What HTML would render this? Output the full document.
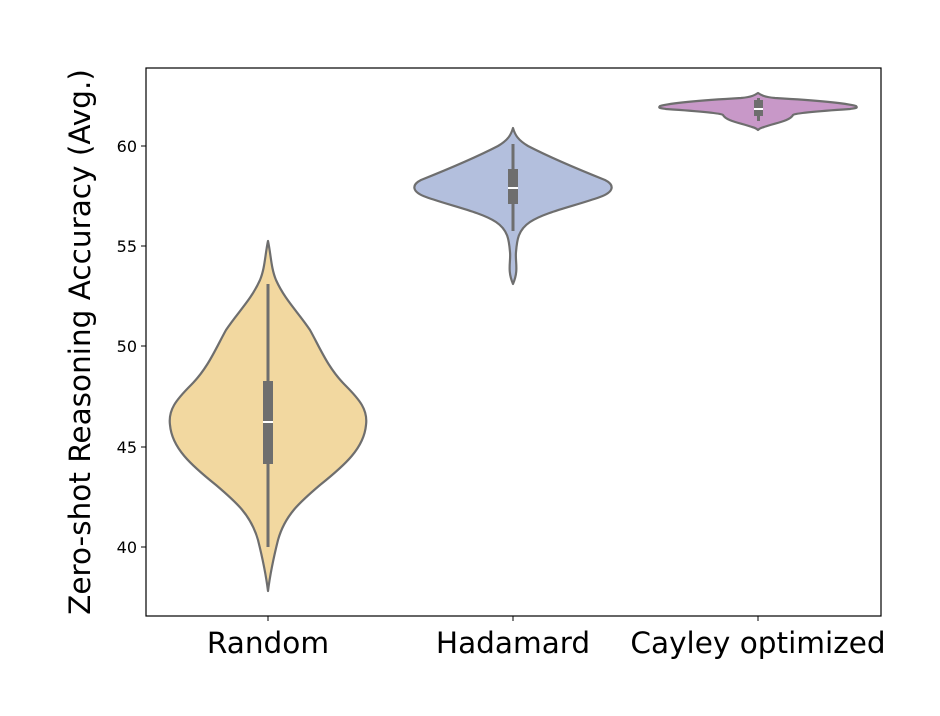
<!DOCTYPE html><html><head><style>body{margin:0;background:#fff}svg{display:block;font-family:"DejaVu Sans","Liberation Sans",sans-serif}</style></head><body>
<svg width="940" height="716" viewBox="0 0 940 716">
<g stroke="#6e6e6e" stroke-width="2.2" stroke-linejoin="round">
<path fill="#f2d8a0" d="M268,241 C271,255 271,268 276,280 C285,300 298,312 310,330 C320,348 328,368 345,385 C360,400 368,410 366,425 C364,448 345,465 320,485 C300,502 285,515 278,540 C273,560 270,575 268,591 C266,575 263,560 258,540 C251,515 236,502 216,485 C191,465 172,448 170,425 C168,410 176,400 191,385 C208,368 216,348 226,330 C238,312 251,300 260,280 C265,268 265,255 268,241 Z"/>
<path fill="#b3bfdd" d="M513,128 C515,135 518,140 528,146 C555,160 585,172 605,180 C615,185 614,192 600,197 C575,206 545,212 530,222 C518,230 517,240 516,252 C515,262 519,270 513,284 C507,270 511,262 510,252 C509,240 508,230 496,222 C481,212 451,206 426,197 C412,192 411,185 421,180 C441,172 471,160 498,146 C508,140 511,135 513,128 Z"/>
<path fill="#c898c8" d="M758,93 C761,95 764,97 775,98 C810,100 845,103 856,106 C858,108 856,108 850,109 C820,111 795,113 793,115 C790,121 775,123 764,127 C760,128 759,129 758,130 C757,129 756,128 752,127 C741,123 726,121 723,115 C721,113 696,111 666,109 C660,108 658,108 660,106 C671,103 706,100 741,98 C752,97 755,95 758,93 Z"/>
</g>
<g fill="#6e6e6e">
<rect x="266.5" y="284" width="3" height="263"/><rect x="263" y="381" width="10" height="83"/>
<rect x="511.5" y="144" width="3" height="87"/><rect x="508" y="169" width="10" height="35"/>
<rect x="757" y="98" width="3" height="23"/><rect x="754" y="100" width="9" height="16"/>
</g>
<g stroke="#fff" stroke-width="2"><line x1="263" x2="273" y1="422" y2="422"/><line x1="508" x2="518" y1="188" y2="188"/><line x1="754" x2="763" y1="109" y2="109"/></g>
<rect x="146" y="68" width="735" height="548" fill="none" stroke="#000" stroke-width="1.2"/>
<g stroke="#000" stroke-width="1">
<line x1="141" x2="146" y1="146" y2="146"/><line x1="141" x2="146" y1="246" y2="246"/><line x1="141" x2="146" y1="346" y2="346"/><line x1="141" x2="146" y1="447" y2="447"/><line x1="141" x2="146" y1="547" y2="547"/>
<line x1="268" x2="268" y1="616" y2="621"/><line x1="513" x2="513" y1="616" y2="621"/><line x1="758" x2="758" y1="616" y2="621"/>
</g>
<g font-size="16" text-anchor="end" fill="#000">
<text x="137" y="152">60</text><text x="137" y="252">55</text><text x="137" y="352">50</text><text x="137" y="453">45</text><text x="137" y="553">40</text>
</g>
<g font-size="29.5" text-anchor="middle" fill="#000">
<text x="268" y="653">Random</text><text x="513" y="653">Hadamard</text><text x="758" y="653">Cayley optimized</text>
<text transform="translate(90,342) rotate(-90)">Zero-shot Reasoning Accuracy (Avg.)</text>
</g>
</svg></body></html>
